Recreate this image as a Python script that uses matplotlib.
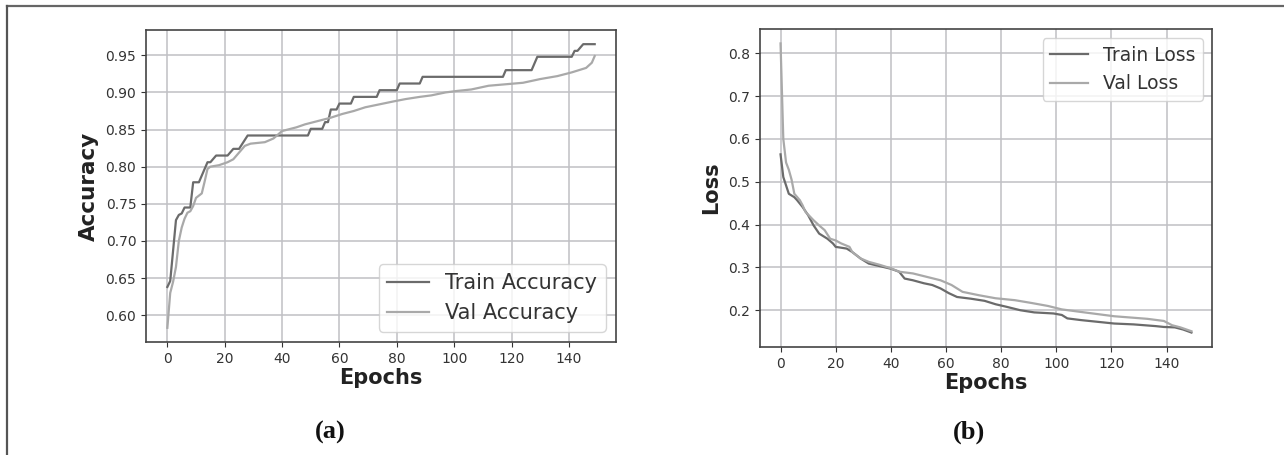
import matplotlib
matplotlib.use("Agg")
import matplotlib.pyplot as plt
from matplotlib.lines import Line2D

# accuracy curves (epoch, value)
train_acc_ep = [0, 1, 3, 4, 5, 6, 8, 9, 11, 14, 15, 17, 21, 23, 25, 28, 49, 50, 54, 55, 56, 57,
                59, 60, 64, 65, 73, 74, 80, 81, 88, 89, 117, 118, 127, 129, 141, 142, 143, 145, 149]
train_acc = [0.638, 0.646, 0.728, 0.735, 0.737, 0.745, 0.745, 0.779, 0.779, 0.806, 0.806, 0.815,
             0.815, 0.824, 0.824, 0.842, 0.842, 0.851, 0.851, 0.860, 0.860, 0.877, 0.877, 0.885,
             0.885, 0.894, 0.894, 0.903, 0.903, 0.912, 0.912, 0.921, 0.921, 0.930, 0.930, 0.948,
             0.948, 0.956, 0.956, 0.965, 0.965]

val_acc_ep = [0, 1, 2, 3, 4, 5, 6, 7, 8, 9, 10, 12, 13, 14, 15, 18, 21, 23, 25, 27, 29, 34, 37,
              40, 45, 48, 53, 57, 61, 65, 69, 74, 79, 83, 88, 92, 97, 101, 106, 112, 118, 124,
              130, 136, 141, 146, 148, 149]
val_acc = [0.583, 0.630, 0.645, 0.665, 0.700, 0.718, 0.730, 0.738, 0.740, 0.747, 0.758, 0.764,
           0.780, 0.797, 0.800, 0.802, 0.806, 0.810, 0.819, 0.828, 0.831, 0.833, 0.838, 0.848,
           0.853, 0.857, 0.862, 0.866, 0.871, 0.875, 0.880, 0.884, 0.888, 0.891, 0.894, 0.896,
           0.900, 0.902, 0.904, 0.909, 0.911, 0.913, 0.918, 0.922, 0.927, 0.933, 0.940, 0.949]

# loss curves
train_loss_ep = [0, 1, 3, 5, 6, 8, 10, 12, 14, 17, 19, 20, 24, 26, 29, 32, 36, 40, 43, 45, 48,
                 52, 55, 58, 61, 64, 69, 74, 78, 82, 87, 92, 99, 102, 104, 109, 115, 121, 128,
                 136, 139, 143, 146, 149]
train_loss = [0.564, 0.511, 0.472, 0.464, 0.457, 0.441, 0.422, 0.398, 0.379, 0.367, 0.356, 0.348,
              0.344, 0.336, 0.321, 0.309, 0.303, 0.297, 0.290, 0.274, 0.270, 0.263, 0.259, 0.251,
              0.240, 0.231, 0.227, 0.222, 0.214, 0.208, 0.200, 0.195, 0.1925, 0.189, 0.181, 0.177,
              0.173, 0.169, 0.167, 0.163, 0.161, 0.160, 0.155, 0.148]

val_loss_ep = [0, 1, 2, 3, 4, 5, 7, 8, 9, 12, 14, 16, 18, 20, 22, 25, 26, 29, 32, 36, 40, 43, 48,
               53, 58, 62, 66, 72, 78, 85, 91, 97, 102, 109, 115, 121, 127, 133, 139, 142, 145, 149]
val_loss = [0.823, 0.600, 0.545, 0.528, 0.505, 0.472, 0.457, 0.445, 0.430, 0.410, 0.398, 0.387,
            0.367, 0.363, 0.356, 0.348, 0.336, 0.321, 0.313, 0.306, 0.298, 0.290, 0.286, 0.278,
            0.270, 0.259, 0.243, 0.235, 0.228, 0.2235, 0.217, 0.210, 0.202, 0.196, 0.191, 0.186,
            0.183, 0.180, 0.175, 0.165, 0.160, 0.151]

c_train = "#6b6b6b"
c_val = "#a9a9a9"
grid_c = "#c0c0c4"
spine_c = "#444444"

fig = plt.figure(figsize=(12.84, 4.55), dpi=100)

ax1 = fig.add_axes([0.1137, 0.2484, 0.3661, 0.6857])
ax2 = fig.add_axes([0.5919, 0.2374, 0.3520, 0.6989])

ax1.plot(train_acc_ep, train_acc, color=c_train, lw=1.6, label="Train Accuracy")
ax1.plot(val_acc_ep, val_acc, color=c_val, lw=1.6, label="Val Accuracy")
ax1.set_ylabel("Accuracy", fontsize=15.5, fontweight="bold", color="#222222", labelpad=5)
ax1.set_yticks([0.60, 0.65, 0.70, 0.75, 0.80, 0.85, 0.90, 0.95])
ax1.set_yticklabels(["0.60", "0.65", "0.70", "0.75", "0.80", "0.85", "0.90", "0.95"])
leg1 = ax1.legend(loc="lower right", fontsize=15, framealpha=0.8, handlelength=2.0,
                  labelcolor="#333333")

ax2.plot(train_loss_ep, train_loss, color=c_train, lw=1.6, label="Train Loss")
ax2.plot(val_loss_ep, val_loss, color=c_val, lw=1.6, label="Val Loss")
ax2.set_ylabel("Loss", fontsize=15, fontweight="bold", color="#222222", labelpad=5)
ax2.set_yticks([0.2, 0.3, 0.4, 0.5, 0.6, 0.7, 0.8])
leg2 = ax2.legend(loc="upper right", fontsize=13.5, framealpha=0.8, handlelength=2.0,
                  labelcolor="#333333")

for ax in (ax1, ax2):
    ax.set_xticks([0, 20, 40, 60, 80, 100, 120, 140])
    ax.set_xlabel("Epochs", fontsize=15, fontweight="bold", color="#222222", labelpad=2)
    ax.grid(True, color=grid_c, lw=1.1)
    ax.set_axisbelow(True)
    ax.tick_params(labelsize=10, colors="#333333", length=3.5)
    for s in ax.spines.values():
        s.set_color(spine_c)
        s.set_linewidth(1.2)

# panel captions
fig.text(0.257, 0.05, "(a)", fontsize=19, fontweight="bold", family="Liberation Serif",
         ha="center", va="center", color="#111111")
fig.text(0.755, 0.05, "(b)", fontsize=19, fontweight="bold", family="Liberation Serif",
         ha="center", va="center", color="#111111")

# table-like border: top and left
fig.add_artist(Line2D([0.0055, 1.0], [0.987, 0.987], transform=fig.transFigure,
                      color="#666666", lw=1.6))
fig.add_artist(Line2D([0.0055, 0.0055], [0.0, 0.987], transform=fig.transFigure,
                      color="#555555", lw=1.6))

fig.savefig("out.png", dpi=100, facecolor="white")
